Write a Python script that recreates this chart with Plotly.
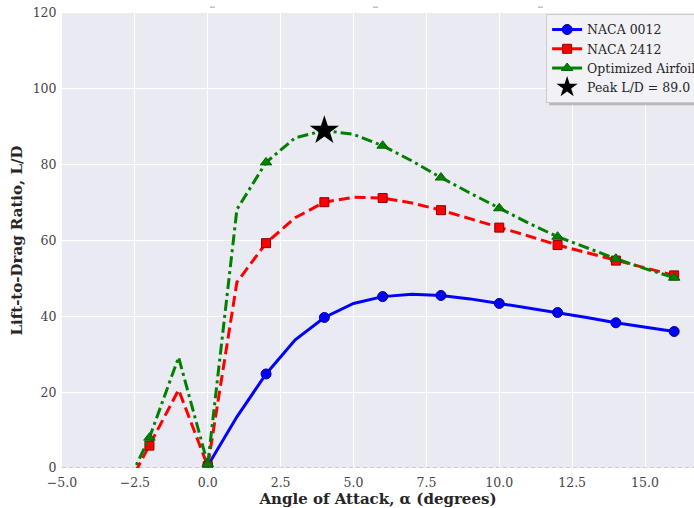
import plotly.graph_objects as go

# ---- data ----
alpha_0012 = [0, 1, 2, 3, 4, 5, 6, 7, 8, 9, 10, 11, 12, 13, 14, 15, 16]
ld_0012 = [0.6, 13.5, 24.8, 33.8, 39.7, 43.4, 45.2, 45.8, 45.5, 44.6, 43.4, 42.2, 41.0, 39.7, 38.3, 37.2, 36.0]

alpha_2412 = [-3, -2, -1, 0, 1, 2, 3, 4, 5, 6, 7, 8, 9, 10, 11, 12, 13, 14, 15, 16]
ld_2412 = [-8.6, 5.9, 20.6, 0.5, 49.0, 59.3, 66.0, 70.1, 71.4, 71.2, 69.9, 68.0, 65.8, 63.4, 61.2, 58.8, 56.8, 54.7, 52.7, 50.8]

alpha_opt = [-3, -2, -1, 0, 1, 2, 3, 4, 5, 6, 7, 8, 9, 10, 11, 12, 13, 14, 15, 16]
ld_opt = [-8.0, 8.0, 29.2, 1.0, 68.2, 80.6, 87.1, 89.0, 88.0, 85.0, 81.0, 76.6, 72.5, 68.5, 64.6, 61.0, 58.0, 55.2, 52.6, 50.2]

peak_alpha = 4
peak_ld = 89.0

x_ticks = [-5.0, -2.5, 0.0, 2.5, 5.0, 7.5, 10.0, 12.5, 15.0]
y_ticks = [0, 20, 40, 60, 80, 100, 120]

names = ["NACA 0012", "NACA 2412", "Optimized Airfoil"]

FONT = "DejaVu Serif"
styles = [
    dict(color="#0000ff", edge="#00008b", dash="solid", symbol="circle", size=10),
    dict(color="#ff0000", edge="#8b0000", dash="11px,5px", symbol="square", size=9),
    dict(color="#008000", edge="#006400", dash="11px,4px,3px,4px", symbol="triangle-up", size=10),
]
series = [(alpha_0012, ld_0012), (alpha_2412, ld_2412), (alpha_opt, ld_opt)]

fig = go.Figure()

for (xs, ys), st, nm in zip(series, styles, names):
    fig.add_trace(go.Scatter(x=xs, y=ys, mode="lines", showlegend=False,
                             line=dict(color=st["color"], width=3, dash=st["dash"])))
    mx = [a for a in xs if a % 2 == 0]
    my = [v for a, v in zip(xs, ys) if a % 2 == 0]
    fig.add_trace(go.Scatter(x=mx, y=my, mode="markers", showlegend=False,
                             marker=dict(symbol=st["symbol"], size=st["size"], color=st["color"],
                                         line=dict(color=st["edge"], width=1))))

fig.add_trace(go.Scatter(x=[peak_alpha], y=[peak_ld], mode="markers", showlegend=False,
                         marker=dict(symbol="star", size=22, color="black",
                                     line=dict(color="black", width=0))))

for st, nm in zip(styles, names):
    fig.add_trace(go.Scatter(x=[None], y=[None], mode="lines+markers", name=nm,
                             line=dict(color=st["color"], width=3),
                             marker=dict(symbol=st["symbol"], size=st["size"], color=st["color"],
                                         line=dict(color=st["edge"], width=1))))
fig.add_trace(go.Scatter(x=[None], y=[None], mode="markers", name=f"Peak L/D = {peak_ld:.1f}",
                         marker=dict(symbol="star", size=22, color="black")))

fig.add_shape(type="line", xref="paper", yref="y", x0=0, x1=1, y0=0, y1=0,
              line=dict(color="rgba(128,128,128,0.6)", width=1.2, dash="4px,3px"), layer="above")

# legend shadow (offset a few px down/right of the legend box)
fig.add_shape(type="rect", xref="paper", yref="paper", x0=0.771, x1=1.02, y0=0.797, y1=0.99,
              fillcolor="rgba(120,120,120,0.45)", line=dict(width=0), layer="above")

for px in [0.238, 0.496, 0.757]:
    fig.add_shape(type="line", xref="paper", yref="paper", x0=px - 0.004, x1=px + 0.004,
                  y0=1.0128, y1=1.0128, line=dict(color="rgba(100,100,100,0.6)", width=1))

fig.update_layout(
    width=694, height=508,
    margin=dict(l=62, r=0, t=13, b=40, autoexpand=False),
    paper_bgcolor="white",
    plot_bgcolor="#eaeaf2",
    font=dict(family=FONT, size=12, color="#333333"),
    xaxis=dict(range=[-5, 16.68], tickvals=x_ticks, ticktext=[f"{v:.1f}".replace("-", "\u2212") for v in x_ticks],
               showgrid=True, gridcolor="white", gridwidth=1, zeroline=False,
               ticks="outside", ticklen=3, tickcolor="rgba(0,0,0,0)",
               tickfont=dict(family=FONT, size=12.5, color="#444444"),
               title=dict(text="<b>Angle of Attack, α (degrees)</b>", font=dict(family=FONT, size=15, color="#262626"),
                          standoff=5)),
    yaxis=dict(range=[0, 120], tickvals=y_ticks,
               showgrid=True, gridcolor="white", gridwidth=1, zeroline=False,
               ticks="outside", ticklen=2, tickcolor="rgba(0,0,0,0)",
               tickfont=dict(family=FONT, size=12.5, color="#444444"),
               title=dict(text="<b>Lift-to-Drag Ratio, L/D</b>", font=dict(family=FONT, size=15, color="#262626"),
                          standoff=6)),
    legend=dict(x=0.766, y=0.998, xanchor="left", yanchor="top",
                bgcolor="rgba(242,242,246,1)", bordercolor="#cccccc", borderwidth=1,
                font=dict(family=FONT, size=12.5, color="#262626"),
                tracegroupgap=0, itemwidth=30),
)

fig.write_html("out.html")
